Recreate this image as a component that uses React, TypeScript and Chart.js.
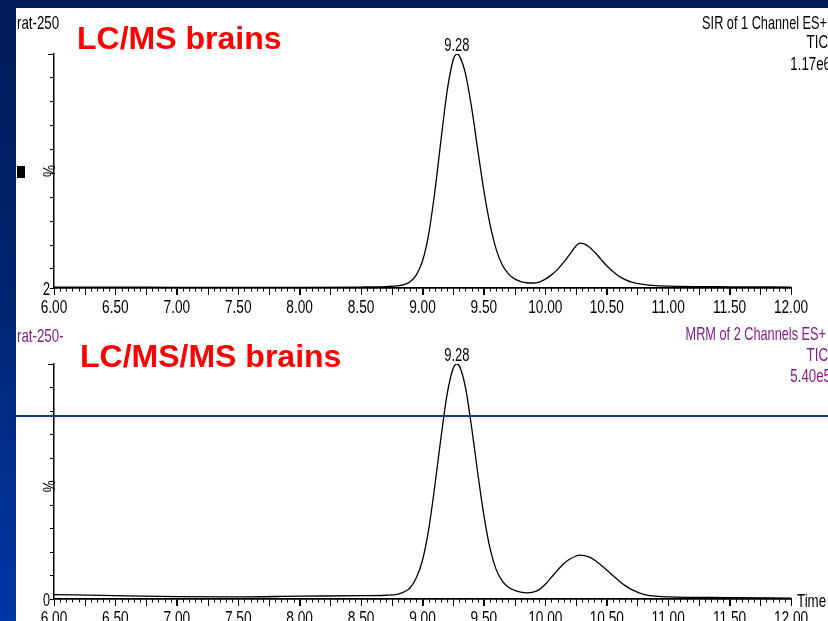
import React, { useEffect, useRef } from 'react';
import { Chart, registerables } from 'chart.js';

Chart.register(...registerables);

// Retention time axis (minutes)
const X_MIN = 6;
const X_MAX = 12;
const X_TICK_VALUES = [6, 6.5, 7, 7.5, 8, 8.5, 9, 9.5, 10, 10.5, 11, 11.5, 12];
const X_TICK_LABELS = ['6.00', '6.50', '7.00', '7.50', '8.00', '8.50', '9.00', '9.50', '10.00', '10.50', '11.00', '11.50', '12.00'];

// SIR trace (LC/MS), relative intensity in %
const TIME_SIR = [6.00, 6.50, 7.00, 7.50, 8.00, 8.50, 8.70, 8.80, 8.85, 8.90, 8.95, 9.00, 9.05, 9.10, 9.15, 9.20, 9.25, 9.28, 9.30, 9.35, 9.40, 9.45, 9.50, 9.55, 9.60, 9.65, 9.70, 9.75, 9.80, 9.85, 9.90, 9.95, 10.00, 10.05, 10.10, 10.15, 10.20, 10.25, 10.28, 10.32, 10.36, 10.40, 10.45, 10.50, 10.55, 10.60, 10.65, 10.70, 10.80, 10.90, 11.00, 11.50, 12.00];
const PCT_SIR = [2.4, 2.4, 2.3, 2.3, 2.3, 2.4, 2.6, 2.9, 3.4, 4.6, 7.5, 13.3, 24.5, 42.2, 63.7, 84.3, 97.6, 100, 99.2, 91.7, 77.5, 59.8, 42.7, 28.5, 18.2, 11.6, 7.9, 5.8, 4.7, 4.2, 4.1, 4.5, 5.7, 7.5, 9.8, 12.8, 16.2, 19.6, 20.8, 20.4, 19.1, 17.1, 14.2, 11.3, 8.9, 6.9, 5.5, 4.5, 3.5, 3.0, 2.8, 2.5, 2.4];
const Y_TICKS_SIR = [2, 10, 20, 30, 40, 50, 60, 70, 80, 90, 100];

// MRM trace (LC/MS/MS), relative intensity in %
const TIME_MRM = [6.00, 6.50, 7.00, 7.50, 8.00, 8.50, 8.70, 8.80, 8.85, 8.90, 8.95, 9.00, 9.05, 9.10, 9.15, 9.20, 9.25, 9.28, 9.30, 9.35, 9.40, 9.45, 9.50, 9.55, 9.60, 9.65, 9.70, 9.75, 9.80, 9.85, 9.90, 9.95, 10.00, 10.05, 10.10, 10.15, 10.20, 10.25, 10.28, 10.32, 10.36, 10.40, 10.45, 10.50, 10.55, 10.60, 10.65, 10.70, 10.80, 10.90, 11.00, 11.50, 12.00];
const PCT_MRM = [1.9, 1.4, 1.0, 0.9, 1.2, 1.4, 1.6, 2.1, 3.0, 4.8, 9.0, 16.5, 29.5, 48, 68.5, 87, 98.2, 100, 99.2, 90, 73, 53.5, 35.5, 21.5, 12.5, 7.6, 5.0, 3.7, 2.9, 2.6, 2.9, 4.0, 6.3, 9.3, 12.3, 15.0, 17.0, 18.3, 18.7, 18.5, 17.8, 16.6, 14.6, 12.3, 10.0, 7.7, 5.7, 4.1, 2.0, 1.2, 0.9, 0.6, 0.4];
const Y_TICKS_MRM = [0, 10, 20, 30, 40, 50, 60, 70, 80, 90, 100];

const FONT = '"Liberation Sans", Arial, Helvetica, sans-serif';
const PURPLE = '#861a8a';
const RED = '#ff0000';

type Align = 'left' | 'right' | 'center';
type Label = { text: string; x: number; y: number; color: string; size: number; align: Align; sx?: number; bold?: boolean };

// Narrow instrument-style lettering: regular face squeezed horizontally
function drawText(ctx: CanvasRenderingContext2D, l: Label) {
  const sx = l.sx ?? 0.7;
  ctx.save();
  ctx.font = `${l.bold ? 'bold ' : ''}${l.size}px ${FONT}`;
  ctx.fillStyle = l.color;
  ctx.textBaseline = 'alphabetic';
  ctx.textAlign = 'left';
  const w = ctx.measureText(l.text).width * sx;
  const left = l.align === 'right' ? l.x - w : l.align === 'center' ? l.x - w / 2 : l.x;
  ctx.translate(left, l.y);
  ctx.scale(sx, 1);
  ctx.fillText(l.text, 0, 0);
  ctx.restore();
}

type PanelProps = {
  width: number;
  height: number;
  top: number;
  times: number[];
  values: number[];
  yMin: number;
  yTicks: number[];
  yBaseLabel: string;
  peakTime: number;
  peakLabel: string;
  pctAt: number;
  padding: { left: number; right: number; top: number; bottom: number };
  labels: Label[];
  showTime?: boolean;
};

function Panel(p: PanelProps) {
  const ref = useRef<HTMLCanvasElement | null>(null);

  useEffect(() => {
    if (!ref.current) return;

    const axisDecor = {
      id: 'axisDecor',
      afterDraw(chart: any) {
        const ctx: CanvasRenderingContext2D = chart.ctx;
        const xs = chart.scales.x;
        const ys = chart.scales.y;
        const area = chart.chartArea;
        ctx.save();
        ctx.strokeStyle = '#000';
        ctx.lineWidth = 1;
        // minor time ticks every 0.05 min, longer every 0.25 min
        ctx.beginPath();
        for (let i = 0; i <= 120; i++) {
          const px = Math.round(xs.getPixelForValue(X_MIN + i * 0.05)) + 0.5;
          const len = i % 5 === 0 ? 7 : 3.5;
          ctx.moveTo(px, area.bottom);
          ctx.lineTo(px, area.bottom + len);
        }
        // longer cap tick at the top of the intensity axis
        const yt = Math.round(ys.getPixelForValue(100)) + 0.5;
        ctx.moveTo(area.left - 6, yt);
        ctx.lineTo(area.left, yt);
        ctx.stroke();
        ctx.restore();

        // time tick labels
        X_TICK_VALUES.forEach((v, i) => {
          drawText(ctx, { text: X_TICK_LABELS[i], x: xs.getPixelForValue(v), y: area.bottom + 25, color: '#000', size: 19, align: 'center', sx: 0.72 });
        });
        // baseline intensity label
        drawText(ctx, { text: p.yBaseLabel, x: area.left - 4, y: area.bottom + 7, color: '#000', size: 18, align: 'right' });
        // rotated percent axis title
        ctx.save();
        ctx.translate(area.left + 1, ys.getPixelForValue(p.pctAt));
        ctx.rotate(-Math.PI / 2);
        drawText(ctx, { text: '%', x: 0, y: 0, color: '#000', size: 17, align: 'center', sx: 0.8 });
        ctx.restore();
        // apex retention time
        drawText(ctx, { text: p.peakLabel, x: xs.getPixelForValue(p.peakTime), y: ys.getPixelForValue(100) - 3, color: '#000', size: 18, align: 'center', sx: 0.72 });
        if (p.showTime) {
          drawText(ctx, { text: 'Time', x: area.right + 6, y: area.bottom + 8, color: '#000', size: 19, align: 'left' });
        }
        p.labels.forEach((l) => drawText(ctx, l));
      },
    };

    const chart = new Chart(ref.current, {
      type: 'line',
      data: {
        datasets: [
          {
            data: p.times.map((t, i) => ({ x: t, y: p.values[i] })),
            borderColor: '#000',
            borderWidth: 1.3,
            pointRadius: 0,
            cubicInterpolationMode: 'monotone',
            fill: false,
          },
        ],
      },
      options: {
        animation: false,
        responsive: false,
        maintainAspectRatio: false,
        devicePixelRatio: 1,
        layout: { padding: p.padding },
        plugins: { legend: { display: false }, tooltip: { enabled: false }, title: { display: false } },
        scales: {
          x: {
            type: 'linear',
            min: X_MIN,
            max: X_MAX,
            afterBuildTicks: (s: any) => {
              s.ticks = X_TICK_VALUES.map((v) => ({ value: v }));
            },
            ticks: { display: false },
            grid: { display: true, drawOnChartArea: false, drawTicks: true, tickLength: 7, color: '#000', lineWidth: 1 },
            border: { display: true, color: '#000', width: 1.8 },
          },
          y: {
            type: 'linear',
            min: p.yMin,
            max: 100,
            afterBuildTicks: (s: any) => {
              s.ticks = p.yTicks.map((v) => ({ value: v }));
            },
            ticks: { display: false },
            grid: { display: true, drawOnChartArea: false, drawTicks: true, tickLength: 4, color: '#000', lineWidth: 1 },
            border: { display: true, color: '#000', width: 1.5 },
          },
        },
      },
      plugins: [axisDecor],
    } as any);

    return () => chart.destroy();
  }, []);

  return (
    <canvas
      ref={ref}
      width={p.width}
      height={p.height}
      style={{ position: 'absolute', left: 0, top: p.top, width: p.width, height: p.height, display: 'block' }}
    />
  );
}

export default function App() {
  return (
    <div
      style={{
        position: 'fixed',
        left: 0,
        top: 0,
        width: 828,
        height: 621,
        overflow: 'hidden',
        background: 'linear-gradient(180deg, #001a57 0%, #00256f 45%, #0036a6 100%)',
      }}
    >
      <div style={{ position: 'absolute', left: 16, top: 8, width: 812, height: 613, background: '#fff', overflow: 'hidden' }}>
        <Panel
          width={812}
          height={317}
          top={0}
          times={TIME_SIR}
          values={PCT_SIR}
          yMin={2}
          yTicks={Y_TICKS_SIR}
          yBaseLabel="2"
          peakTime={9.28}
          peakLabel="9.28"
          pctAt={51}
          padding={{ left: 34, right: 37, top: 46, bottom: 30 }}
          labels={[
            { text: 'rat-250', x: 1, y: 21, color: '#000', size: 19, align: 'left' },
            { text: 'LC/MS brains', x: 61, y: 41, color: RED, size: 32, align: 'left', sx: 1, bold: true },
            { text: 'SIR of 1 Channel ES+', x: 811, y: 21, color: '#000', size: 19, align: 'right', sx: 0.67 },
            { text: 'TIC', x: 812, y: 40, color: '#000', size: 19, align: 'right' },
            { text: '1.17e6', x: 815, y: 62, color: '#000', size: 19, align: 'right' },
          ]}
        />
        <Panel
          width={812}
          height={296}
          top={317}
          times={TIME_MRM}
          values={PCT_MRM}
          yMin={0}
          yTicks={Y_TICKS_MRM}
          yBaseLabel="0"
          peakTime={9.28}
          peakLabel="9.28"
          pctAt={48}
          padding={{ left: 34, right: 37, top: 39, bottom: 15 }}
          showTime
          labels={[
            { text: 'rat-250-', x: 1, y: 17, color: PURPLE, size: 19, align: 'left' },
            { text: 'LC/MS/MS brains', x: 64, y: 42, color: RED, size: 32, align: 'left', sx: 1, bold: true },
            { text: 'MRM of 2 Channels ES+', x: 810, y: 15, color: PURPLE, size: 19, align: 'right', sx: 0.67 },
            { text: 'TIC', x: 812, y: 36, color: PURPLE, size: 19, align: 'right' },
            { text: '5.40e5', x: 815, y: 57, color: PURPLE, size: 19, align: 'right' },
          ]}
        />
      </div>
      {/* slide rule line across the lower panel */}
      <div style={{ position: 'absolute', left: 16, top: 415, width: 812, height: 1.5, background: '#12388c' }} />
      {/* small slide marker on the left edge */}
      <div style={{ position: 'absolute', left: 17, top: 166, width: 8, height: 12, background: '#000' }} />
    </div>
  );
}
